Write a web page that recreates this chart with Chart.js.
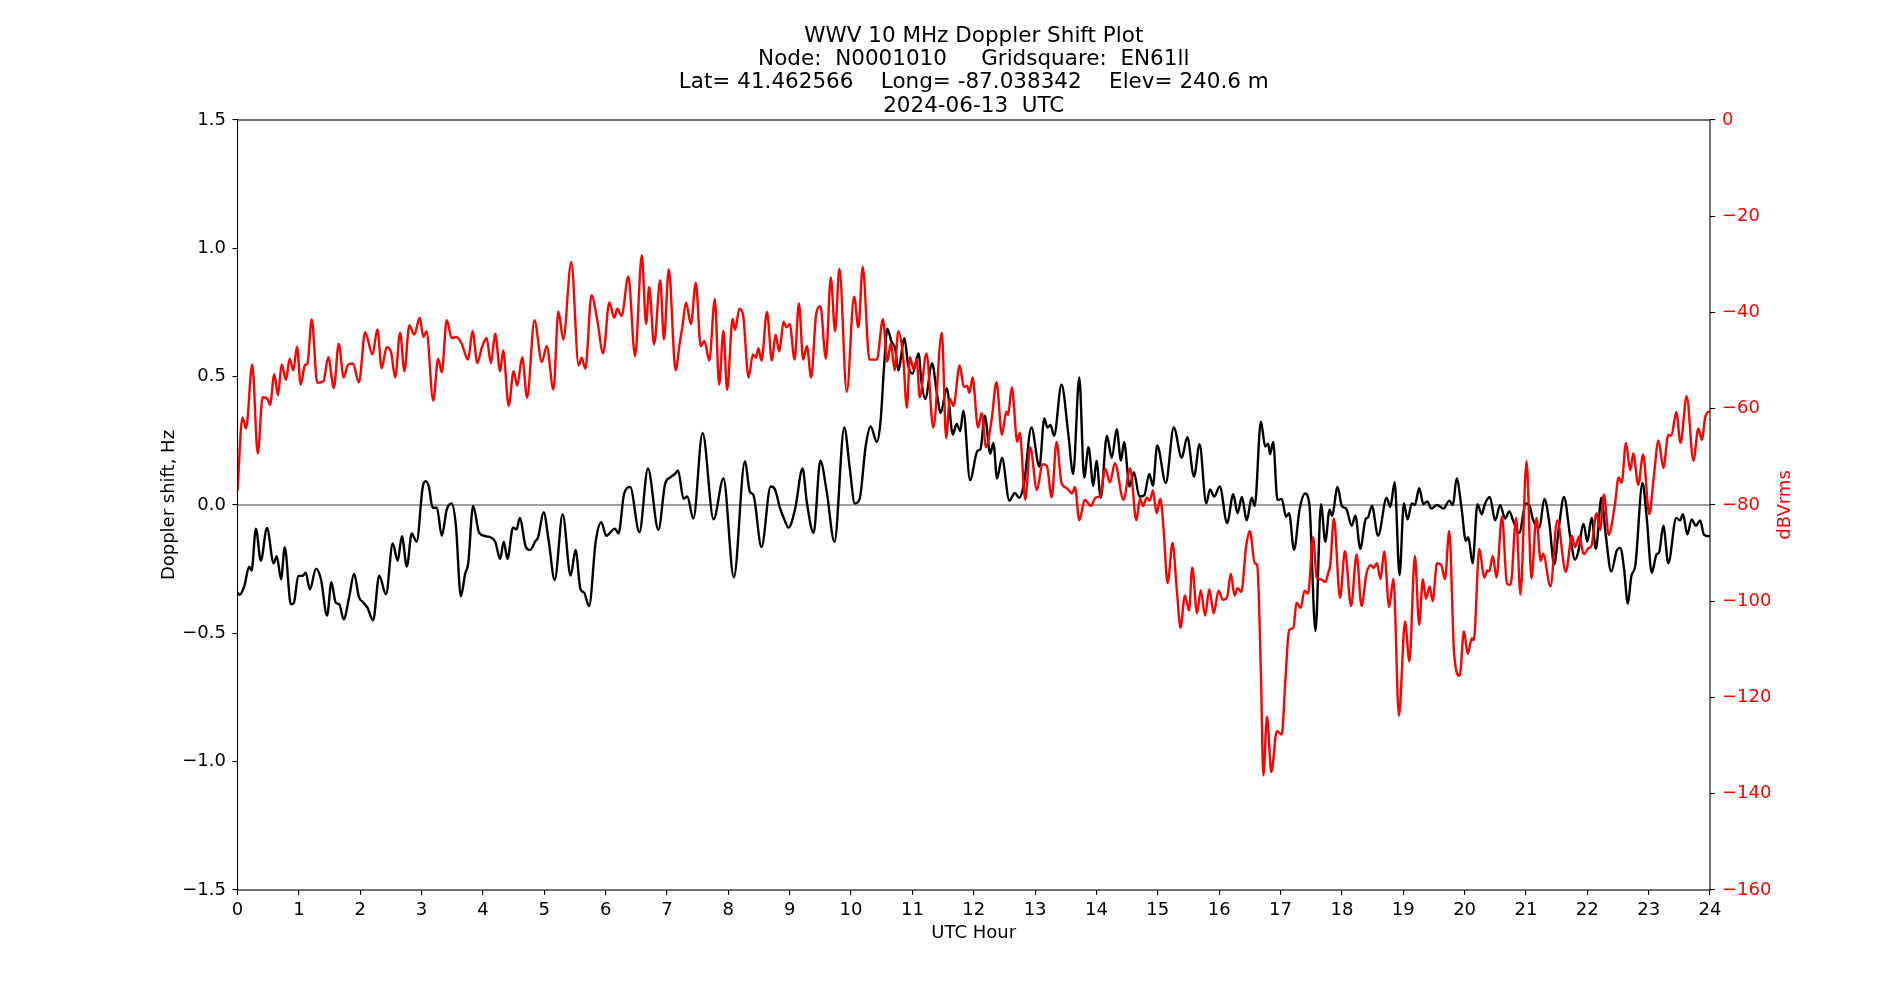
<!DOCTYPE html>
<html>
<head>
<meta charset="utf-8">
<script src="https://cdn.jsdelivr.net/npm/chart.js@4.4.1/dist/chart.umd.min.js"></script>
<style>
  html, body { margin: 0; padding: 0; background: #fff; }
  canvas { display: block; }
</style>
</head>
<body>
<canvas id="doppler" width="1900" height="1000"></canvas>
<script>
// title block
const titleLines = [
  'WWV 10 MHz Doppler Shift Plot',
  'Node:  N0001010     Gridsquare:  EN61ll',
  'Lat= 41.462566    Long= -87.038342    Elev= 240.6 m',
  '2024-06-13  UTC'
];

// Doppler shift (black, left axis)
const dopplerHours = [
  0.00,0.03,0.11,0.19,0.23,0.30,0.38,0.48,0.59,0.64,
  0.71,0.77,0.87,0.92,0.99,1.06,1.11,1.18,1.28,1.36,
  1.46,1.53,1.60,1.66,1.73,1.82,1.90,1.98,2.05,2.12,
  2.21,2.31,2.42,2.53,2.61,2.68,2.76,2.84,2.92,3.02,
  3.07,3.12,3.18,3.25,3.33,3.41,3.49,3.56,3.64,3.71,
  3.76,3.84,3.94,4.06,4.20,4.28,4.34,4.40,4.49,4.55,
  4.60,4.70,4.77,4.85,4.90,4.99,5.07,5.17,5.30,5.43,
  5.51,5.59,5.65,5.73,5.84,5.93,6.01,6.15,6.21,6.30,
  6.40,6.55,6.69,6.86,6.97,7.05,7.13,7.18,7.27,7.33,
  7.43,7.58,7.76,7.92,8.09,8.27,8.35,8.41,8.54,8.69,
  8.76,8.84,8.92,8.98,9.09,9.21,9.28,9.39,9.50,9.60,
  9.73,9.89,9.98,10.06,10.14,10.24,10.32,10.42,10.48,10.54,
  10.59,10.66,10.72,10.77,10.87,10.93,11.00,11.10,11.15,11.21,
  11.32,11.40,11.46,11.56,11.66,11.72,11.78,11.83,11.94,12.06,
  12.11,12.18,12.27,12.32,12.38,12.46,12.58,12.67,12.74,12.82,
  12.94,13.07,13.15,13.20,13.25,13.31,13.43,13.54,13.62,13.72,
  13.80,13.87,13.95,14.00,14.07,14.17,14.25,14.33,14.40,14.45,
  14.54,14.61,14.70,14.78,14.86,14.92,14.99,15.13,15.26,15.39,
  15.48,15.59,15.68,15.79,15.85,15.92,16.01,16.13,16.23,16.30,
  16.37,16.45,16.53,16.58,16.68,16.75,16.80,16.83,16.88,16.95,
  17.02,17.09,17.14,17.22,17.31,17.40,17.47,17.57,17.66,17.73,
  17.80,17.84,17.93,18.00,18.07,18.16,18.22,18.30,18.39,18.42,
  18.49,18.59,18.73,18.79,18.86,18.94,19.01,19.07,19.14,19.19,
  19.26,19.33,19.39,19.46,19.55,19.66,19.75,19.81,19.87,19.95,
  20.02,20.06,20.13,20.21,20.28,20.33,20.41,20.50,20.58,20.66,
  20.73,20.79,20.89,21.00,21.06,21.12,21.22,21.30,21.38,21.46,
  21.54,21.62,21.72,21.80,21.85,21.94,22.00,22.07,22.14,22.23,
  22.30,22.39,22.48,22.54,22.60,22.66,22.72,22.78,22.90,22.97,
  23.05,23.13,23.17,23.24,23.32,23.45,23.51,23.56,23.63,23.70,
  23.77,23.84,23.90,23.99,24.00
];
const dopplerHz = [
  -0.34,-0.35,-0.317,-0.24,-0.255,-0.092,-0.217,-0.089,-0.227,-0.199,
  -0.289,-0.164,-0.387,-0.38,-0.276,-0.276,-0.264,-0.328,-0.248,-0.289,
  -0.431,-0.301,-0.38,-0.387,-0.445,-0.359,-0.268,-0.359,-0.38,-0.401,
  -0.449,-0.275,-0.348,-0.15,-0.217,-0.122,-0.24,-0.111,-0.143,0.072,
  0.093,0.07,-0.011,-0.011,-0.12,-0.018,0.006,-0.081,-0.356,-0.269,
  -0.227,-0.004,-0.109,-0.122,-0.143,-0.21,-0.143,-0.21,-0.088,-0.095,
  -0.05,-0.164,-0.175,-0.143,-0.125,-0.028,-0.136,-0.292,-0.036,-0.275,
  -0.175,-0.328,-0.342,-0.394,-0.139,-0.067,-0.12,-0.092,-0.111,0.042,
  0.07,-0.106,0.142,-0.097,0.083,0.107,0.121,0.135,0.024,0.033,
  -0.053,0.281,-0.056,0.103,-0.282,0.17,0.052,0.038,-0.164,0.072,
  0.061,-0.01,-0.06,-0.088,-0.014,0.142,0.01,-0.109,0.173,0.058,
  -0.143,0.302,0.142,0.006,0.024,0.232,0.306,0.246,0.323,0.545,
  0.687,0.636,0.608,0.525,0.65,0.546,0.511,0.59,0.476,0.413,
  0.552,0.434,0.358,0.455,0.274,0.316,0.288,0.367,0.097,0.211,
  0.218,0.348,0.2,0.242,0.103,0.184,0.017,0.047,0.028,0.086,
  0.302,0.149,0.337,0.302,0.312,0.27,0.469,0.28,0.121,0.497,
  0.107,0.225,0.075,0.173,0.028,0.27,0.184,0.295,0.173,0.246,
  0.072,0.128,0.033,0.038,0.121,0.075,0.232,0.086,0.302,0.184,
  0.264,0.111,0.237,0.006,0.061,0.033,0.072,-0.07,0.042,-0.032,
  0.031,-0.06,0.028,-0.004,0.326,0.228,0.239,0.198,0.246,0.019,
  0.024,-0.046,-0.032,-0.175,-0.018,0.045,0.003,-0.491,0.003,-0.143,
  -0.018,-0.042,0.07,-0.004,-0.014,-0.081,-0.042,-0.171,-0.053,-0.05,
  -0.004,-0.12,0.028,-0.008,0.089,-0.273,0.006,-0.056,0.006,0.0,
  0.065,0.003,0.014,-0.014,0.0,-0.014,0.017,0.0,0.103,-0.011,
  -0.139,-0.125,-0.227,0.003,-0.036,0.003,0.031,-0.06,0.0,-0.053,
  -0.025,-0.06,-0.109,0.006,-0.004,-0.06,-0.088,0.024,-0.067,-0.231,
  -0.081,0.031,-0.12,-0.213,-0.185,-0.074,-0.143,-0.05,-0.171,0.028,
  -0.115,-0.259,-0.178,-0.167,-0.25,-0.384,-0.275,-0.24,0.086,-0.053,
  -0.264,-0.192,-0.185,-0.081,-0.227,-0.05,-0.06,-0.036,-0.115,-0.056,
  -0.081,-0.06,-0.115,-0.122,-0.122
];

// signal level (red, right axis)
const levelHours = [
  0.00,0.08,0.14,0.24,0.33,0.41,0.49,0.53,0.60,0.66,
  0.72,0.79,0.85,0.91,0.97,1.03,1.10,1.14,1.21,1.30,
  1.40,1.48,1.57,1.65,1.73,1.80,1.88,1.98,2.08,2.20,
  2.28,2.35,2.43,2.50,2.57,2.65,2.72,2.80,2.88,2.97,
  3.03,3.08,3.19,3.27,3.33,3.41,3.49,3.57,3.65,3.76,
  3.83,3.91,3.98,4.06,4.13,4.20,4.28,4.33,4.42,4.50,
  4.56,4.64,4.72,4.84,4.96,5.04,5.15,5.23,5.31,5.44,
  5.56,5.61,5.67,5.77,5.86,5.96,6.06,6.14,6.19,6.26,
  6.37,6.48,6.59,6.66,6.71,6.79,6.89,6.95,7.03,7.14,
  7.21,7.25,7.31,7.39,7.47,7.55,7.61,7.69,7.78,7.85,
  7.92,7.98,8.07,8.11,8.18,8.24,8.33,8.40,8.45,8.49,
  8.54,8.63,8.71,8.77,8.83,8.90,8.95,9.00,9.08,9.15,
  9.22,9.28,9.35,9.43,9.50,9.59,9.67,9.74,9.81,9.93,
  10.05,10.12,10.19,10.30,10.42,10.52,10.59,10.65,10.71,10.77,
  10.85,10.91,10.96,11.02,11.07,11.12,11.23,11.34,11.48,11.55,
  11.61,11.67,11.77,11.84,11.89,11.93,11.98,12.07,12.13,12.20,
  12.29,12.37,12.46,12.53,12.56,12.62,12.71,12.75,12.84,12.92,
  13.03,13.12,13.19,13.27,13.35,13.43,13.52,13.60,13.65,13.72,
  13.81,13.91,13.99,14.06,14.14,14.22,14.30,14.44,14.55,14.65,
  14.71,14.76,14.82,14.87,14.92,14.98,15.04,15.09,15.16,15.24,
  15.31,15.37,15.44,15.51,15.56,15.64,15.70,15.77,15.84,15.91,
  15.99,16.06,16.13,16.19,16.25,16.30,16.36,16.44,16.50,16.58,
  16.62,16.68,16.72,16.78,16.85,16.94,17.02,17.08,17.14,17.21,
  17.26,17.33,17.39,17.45,17.53,17.59,17.67,17.73,17.78,17.81,
  17.87,17.97,18.05,18.15,18.24,18.32,18.40,18.47,18.52,18.57,
  18.63,18.69,18.77,18.84,18.93,19.03,19.10,19.19,19.26,19.32,
  19.37,19.43,19.48,19.55,19.62,19.68,19.75,19.83,19.92,19.99,
  20.05,20.12,20.15,20.24,20.32,20.37,20.40,20.46,20.52,20.61,
  20.69,20.75,20.84,20.91,21.01,21.09,21.17,21.24,21.28,21.40,
  21.51,21.65,21.75,21.80,21.87,21.94,22.02,22.07,22.15,22.21,
  22.27,22.35,22.45,22.51,22.56,22.63,22.70,22.75,22.83,22.91,
  23.01,23.08,23.16,23.24,23.32,23.37,23.45,23.52,23.62,23.73,
  23.81,23.87,23.92,23.99,24.00
];
const levelDb = [
  -77,-61.8,-64.1,-50.8,-69.3,-57.6,-58,-59.2,-52.8,-57.2,
  -50.8,-54,-49.6,-52,-47.1,-55,-50.9,-50.6,-41.4,-54.6,
  -54.3,-49.3,-55.7,-46.5,-53.5,-50.9,-50.6,-54.5,-44.1,-48.7,
  -43.5,-51.6,-47.2,-48.1,-53.5,-44.2,-52.2,-42.7,-44.6,-41.1,
  -45.1,-43.9,-58.3,-49.6,-52.4,-41.6,-45.3,-45.1,-46.4,-49.8,
  -43.9,-50.5,-47.4,-45.3,-50.5,-44.4,-52.2,-47.9,-59.4,-52.2,
  -55.2,-49.3,-57.7,-41.6,-50.3,-47,-56,-39.8,-45.6,-29.5,
  -51,-49.4,-51.7,-36.4,-41.3,-48.5,-37.9,-41.1,-39.2,-40.7,
  -32.5,-49.1,-28.1,-42.4,-34.7,-46.6,-33.3,-45.6,-31,-52,
  -46.1,-43.1,-37.9,-42.4,-33.8,-47,-45.9,-50,-37.2,-55,
  -43.8,-56.1,-41.3,-43.6,-39.2,-40.5,-53.5,-48.7,-49.4,-47.4,
  -50,-39.9,-50,-44.6,-48.1,-41.9,-43.1,-42.4,-49.8,-38.1,
  -49.8,-47,-53.5,-40.5,-38.7,-49.6,-32.7,-43.9,-30.9,-56.5,
  -36.7,-43.1,-30.5,-49.8,-49.8,-41.4,-50.2,-46.4,-52,-43.9,
  -49.4,-59.8,-49.3,-51.8,-49.8,-57.6,-48.5,-63.9,-44.2,-66.1,
  -57.9,-59.4,-51,-55.5,-55.2,-56.7,-53.5,-63.9,-60.9,-68,
  -62.4,-54.5,-65.4,-60.6,-61.3,-55.5,-66.9,-65,-78.9,-68,
  -76.9,-71.5,-71.8,-78.4,-66.9,-75.4,-76.5,-77.6,-76.3,-83.2,
  -78.9,-80.2,-78.4,-78.2,-72.4,-75.3,-71.3,-78.9,-72.4,-83.2,
  -78.7,-80.2,-78.5,-79.1,-77,-81.7,-78.7,-84.3,-96.2,-87.9,
  -97.7,-105.5,-98.8,-101.9,-93,-102.5,-97.7,-103,-97.5,-102.5,
  -97.8,-99.7,-99.1,-94.3,-98.8,-97.3,-98.1,-88.6,-85.4,-92.1,
  -92.5,-114.7,-136.2,-124,-135.5,-127,-127.7,-116.2,-106,-105.5,
  -100.3,-101.4,-97.8,-98.4,-86.7,-95.1,-95.5,-96,-94,-92.5,
  -82.8,-99.3,-89.6,-101,-90.3,-101,-94.3,-92.5,-93.1,-92.1,
  -95.4,-89.6,-101.2,-95.3,-123.8,-104.2,-112.5,-90.6,-104.9,-95.4,
  -99.5,-96.9,-100,-92.1,-92.5,-95.4,-85.4,-111,-115.5,-106.2,
  -110.9,-107.7,-108.1,-89.1,-95.1,-93.6,-93.8,-90.6,-95.1,-82.4,
  -96.3,-96.6,-82.7,-98.6,-70.9,-95.3,-82.7,-91.6,-90.1,-96.9,
  -83.2,-93.9,-86.4,-88.8,-86.5,-90.2,-89,-88.4,-81.7,-85.2,
  -77.8,-86.2,-79.9,-74.3,-75.4,-67.1,-72.8,-69.3,-75.8,-69.5,
  -81.9,-74.7,-66.6,-72.3,-65.4,-65.6,-60.7,-67.1,-57.4,-70.8,
  -64.1,-66.5,-61.9,-60.6,-60.6
];

const MINUS = '\u2212';
function fmt(v, digits) {
  const s = Math.abs(v).toFixed(digits);
  return v < -1e-9 ? MINUS + s : s;
}
function toPoints(xs, ys) {
  return xs.map((x, i) => ({ x: x, y: ys[i] }));
}

const tickFont = { family: 'DejaVu Sans', size: 18 };
const tickGrid = { drawOnChartArea: false, drawTicks: true, tickLength: 5, color: '#000', lineWidth: 1.1 };

// titles, axis labels and the box round the axes
const textPlugin = {
  id: 'texts',
  afterDraw(chart) {
    const ctx = chart.ctx;
    const a = chart.chartArea;
    const cx = (a.left + a.right) / 2;
    const cy = (a.top + a.bottom) / 2;
    ctx.save();
    ctx.strokeStyle = '#000';
    ctx.lineWidth = 1.1;
    ctx.strokeRect(a.left, a.top, a.right - a.left, a.bottom - a.top);

    ctx.fillStyle = '#000';
    ctx.textAlign = 'center';
    ctx.textBaseline = 'alphabetic';
    ctx.font = '21.5px "DejaVu Sans"';
    titleLines.forEach((t, i) => ctx.fillText(t, cx, 41.7 + i * 23.3));

    ctx.font = '18px "DejaVu Sans"';
    ctx.fillText('UTC Hour', cx, 937.5);

    ctx.save();
    ctx.translate(174, cy);
    ctx.rotate(-Math.PI / 2);
    ctx.fillText('Doppler shift, Hz', 0, 0);
    ctx.restore();

    ctx.save();
    ctx.fillStyle = '#ff0000';
    ctx.translate(1790, cy);
    ctx.rotate(-Math.PI / 2);
    ctx.fillText('dBVrms', 0, 0);
    ctx.restore();
    ctx.restore();
  }
};

new Chart(document.getElementById('doppler'), {
  type: 'line',
  data: {
    datasets: [
      {
        data: toPoints(levelHours, levelDb),
        yAxisID: 'y1',
        borderColor: '#ff0000',
        borderWidth: 2.4,
        cubicInterpolationMode: 'monotone'
      },
      {
        data: toPoints(dopplerHours, dopplerHz),
        yAxisID: 'y',
        borderColor: '#000000',
        borderWidth: 2.4,
        cubicInterpolationMode: 'monotone'
      },
      {
        data: [{ x: 0, y: 0 }, { x: 24, y: 0 }],
        yAxisID: 'y',
        borderColor: '#808080',
        borderWidth: 1.4
      }
    ]
  },
  options: {
    responsive: false,
    animation: false,
    devicePixelRatio: 1,
    layout: { padding: { top: 120, left: 0, right: 0, bottom: 0 } },
    elements: { point: { radius: 0 } },
    plugins: {
      legend: { display: false },
      tooltip: { enabled: false },
      title: { display: false }
    },
    scales: {
      x: {
        type: 'linear',
        min: 0,
        max: 24,
        afterFit: s => { s.height = 110; },
        border: { display: false },
        grid: tickGrid,
        ticks: {
          stepSize: 1,
          autoSkip: false,
          maxRotation: 0,
          padding: 5,
          color: '#000',
          font: tickFont,
          callback: v => String(v)
        }
      },
      y: {
        position: 'left',
        min: -1.5,
        max: 1.5,
        afterFit: s => { s.width = 237.5; },
        border: { display: false },
        grid: tickGrid,
        ticks: {
          stepSize: 0.5,
          padding: 6.5,
          color: '#000',
          font: tickFont,
          callback: v => fmt(v, 1)
        }
      },
      y1: {
        position: 'right',
        min: -160,
        max: 0,
        afterFit: s => { s.width = 190; },
        border: { display: false },
        grid: tickGrid,
        ticks: {
          stepSize: 20,
          padding: 7,
          color: '#ff0000',
          font: tickFont,
          callback: v => fmt(v, 0)
        }
      }
    }
  },
  plugins: [textPlugin]
});
</script>
</body>
</html>
